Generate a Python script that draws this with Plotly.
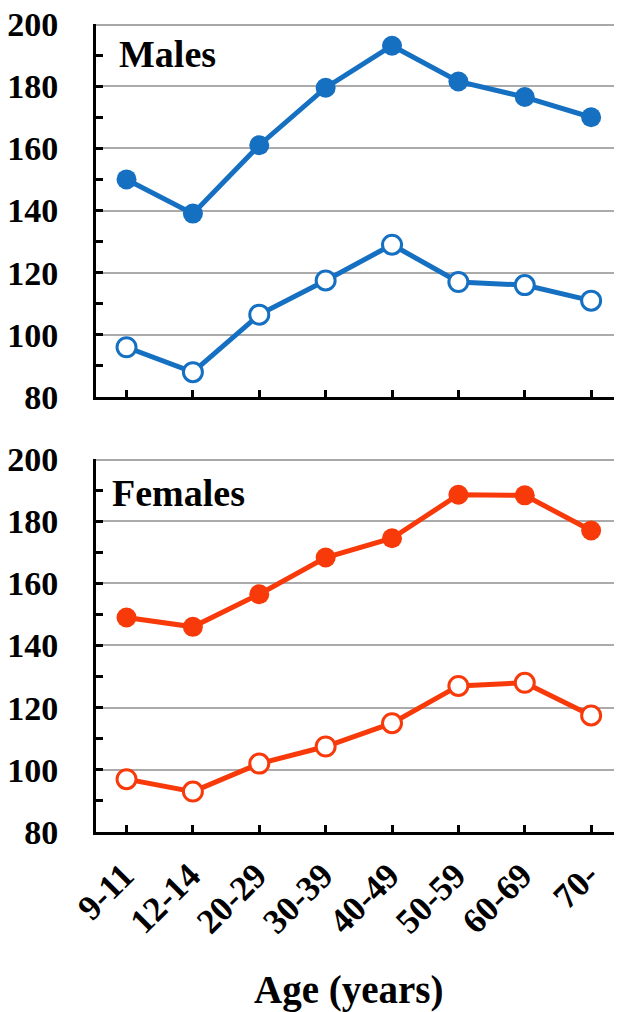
import plotly.graph_objects as go
from plotly.subplots import make_subplots

ages = ["9-11", "12-14", "20-29", "30-39", "40-49", "50-59", "60-69", "70-"]
males_filled = [150, 139, 161, 179.5, 193, 181.5, 176.5, 170]
males_open = [96, 88, 106.5, 117.5, 129, 117, 116, 111]
females_filled = [149, 146, 156.5, 168.3, 174.5, 188.5, 188.3, 177]
females_open = [97, 93, 102, 107.5, 115, 127, 128, 117.5]

BLUE = "#1670C2"
RED = "#F83A0A"
FONT = "Liberation Serif, Times New Roman, serif"

fig = make_subplots(rows=2, cols=1, vertical_spacing=0.0767)

def add_pair(filled, opened, color, row):
    fig.add_trace(go.Scatter(x=ages, y=filled, mode="lines+markers",
                             line=dict(color=color, width=5),
                             marker=dict(size=20, color=color, line=dict(color=color, width=0))),
                  row=row, col=1)
    fig.add_trace(go.Scatter(x=ages, y=opened, mode="lines+markers",
                             line=dict(color=color, width=5),
                             marker=dict(size=19, color="white", line=dict(color=color, width=3))),
                  row=row, col=1)

add_pair(males_filled, males_open, BLUE, 1)
add_pair(females_filled, females_open, RED, 2)

for r in (1, 2):
    sfx = "" if r == 1 else str(r)
    fig.update_yaxes(range=[80, 200], dtick=20, tick0=80, showgrid=True, gridcolor="#ababab",
                     gridwidth=2, showline=True, linecolor="black", linewidth=3,
                     ticks="inside", ticklen=7, tickwidth=3, tickcolor="black",
                     minor=dict(dtick=10, ticks="inside", ticklen=7, tickwidth=3, tickcolor="black", showgrid=False),
                     tickfont=dict(family=FONT, size=34, color="black", weight="bold"),
                     ticklabelstandoff=28, ticklabeloverflow="allow",
                     zeroline=False, automargin=False, row=r, col=1)
    fig.update_xaxes(range=[-0.46, 7.45], showgrid=False, showline=True, linecolor="black",
                     linewidth=3, ticks="inside", ticklen=7, tickwidth=3, tickcolor="black",
                     tickmode="array", tickvals=ages, automargin=False, row=r, col=1)
    fig.add_shape(type="line", xref=f"x{sfx} domain", yref=f"y{sfx}",
                  x0=0, x1=1, y0=200, y1=200, line=dict(color="#a8a8a8", width=4))
    fig.add_shape(type="line", xref=f"x{sfx} domain", yref=f"y{sfx} domain",
                  x0=1, x1=1, y0=0, y1=1, line=dict(color="#c8c8c8", width=1.5))

fig.update_xaxes(showticklabels=False, row=1, col=1)
fig.update_xaxes(showticklabels=True, tickangle=-45,
                 tickfont=dict(family=FONT, size=35, color="black", weight="bold"),
                 ticklabelstandoff=6, ticklabelshift=-3, ticklabeloverflow="allow", row=2, col=1)

fig.add_annotation(text="Males", xref="x domain", yref="y domain", x=0.04, y=0.92,
                   xanchor="left", yanchor="middle", showarrow=False,
                   font=dict(family=FONT, size=38, color="black", weight="bold"))
fig.add_annotation(text="Females", xref="x2 domain", yref="y2 domain", x=0.027, y=0.91,
                   xanchor="left", yanchor="middle", showarrow=False,
                   font=dict(family=FONT, size=38, color="black", weight="bold"))
fig.add_annotation(text="Age (years)", xref="paper", yref="paper", x=0.482, y=-0.1955,
                   xanchor="center", yanchor="middle", showarrow=False,
                   font=dict(family=FONT, size=39, color="black", weight="bold"))

# page body has an 8px default margin, so the figure is sized to fit inside it
fig.update_layout(width=614, height=1004, showlegend=False,
                  font=dict(family=FONT, color="black"),
                  margin=dict(l=88, r=1, t=16, b=180, autoexpand=False),
                  plot_bgcolor="white", paper_bgcolor="white")

fig.write_html("out.html")
